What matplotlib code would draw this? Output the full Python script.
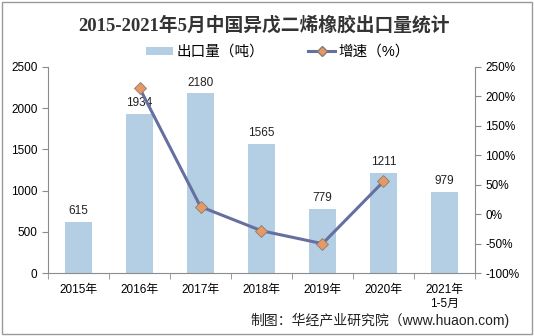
import matplotlib
matplotlib.use("Agg")
import matplotlib.pyplot as plt
import numpy as np
from matplotlib.patches import Rectangle
from matplotlib.lines import Line2D
from matplotlib.patches import Patch

plt.rcParams['font.family'] = ['Liberation Sans', 'Noto Sans CJK SC']

years = ['2015年', '2016年', '2017年', '2018年', '2019年', '2020年', '2021年\n1-5月']
export_qty = [615, 1934, 2180, 1565, 779, 1211, 979]
growth = [None, 214.5, 12.7, -28.2, -50.2, 55.5, None]

bar_color = '#b4cfe3'
line_color = '#6670a0'
marker_color = '#e59a66'
axis_color = '#8c8c8c'

fig = plt.figure(figsize=(5.34, 3.36), dpi=100)
ax = fig.add_axes([0.0899, 0.1875, 0.7996, 0.6131])
ax2 = ax.twinx()

x = np.arange(len(years))
ax.bar(x, export_qty, width=0.44, color=bar_color, zorder=1)
for i, v in enumerate(export_qty):
    ax.annotate(str(v), (x[i], v), xytext=(0, 3.5), textcoords='offset points',
                ha='center', va='bottom', fontsize=8.5, color='#222222')

gx = [x[i] for i in range(len(growth)) if growth[i] is not None]
gy = [g for g in growth if g is not None]
ax2.plot(gx, gy, color=line_color, lw=2.2, marker='D', markersize=6,
         markerfacecolor=marker_color, markeredgecolor='#8a7a70', markeredgewidth=0.6, zorder=3)

ax.set_xlim(-0.5, len(years) - 0.5)
ax.set_ylim(0, 2500)
ax.set_yticks(range(0, 2501, 500))
ax2.set_ylim(-100, 250)
ax2.set_yticks(range(-100, 251, 50))
ax2.set_yticklabels([f'{t}%' for t in range(-100, 251, 50)])

ax.set_xticks(x)
ax.set_xticklabels(years)
ax.set_xticks(np.arange(-0.5, len(years), 1), minor=True)
ax.tick_params(axis='x', which='major', length=0, labelsize=8.5, pad=8)
ax.tick_params(axis='x', which='minor', length=4, color=axis_color, direction='out')
ax.tick_params(axis='y', labelsize=8.5, length=4, color=axis_color)
ax2.tick_params(axis='y', labelsize=8.5, length=4, color=axis_color)

for a in (ax, ax2):
    a.spines['top'].set_visible(False)
    for s in ('left', 'right', 'bottom'):
        a.spines[s].set_color(axis_color)
        a.spines[s].set_linewidth(0.8)
ax.spines['right'].set_visible(False)
ax2.spines['left'].set_visible(False)
ax2.spines['bottom'].set_visible(False)

fig.text(0.495, 0.925, '2015-2021年5月中国异戊二烯橡胶出口量统计', ha='center', va='center',
         fontsize=13.5, fontweight='bold', color='#333333',
         family=['Liberation Serif', 'Noto Sans CJK SC'])

handles = [Patch(facecolor=bar_color, edgecolor='none'),
           Line2D([0], [0], color=line_color, lw=2.2, marker='D', markersize=5,
                  markerfacecolor=marker_color, markeredgecolor='#8a7a70')]
fig.legend(handles, ['出口量（吨）', '增速（%）'], loc='center', bbox_to_anchor=(0.52, 0.845),
           ncol=2, frameon=False, fontsize=10.5, handlelength=1.9, handleheight=0.5,
           columnspacing=3.0, handletextpad=0.2)

fig.text(0.955, 0.045, '制图：华经产业研究院（www.huaon.com)', ha='right', va='center',
         fontsize=10, color='#222222')

fig.patches.append(Rectangle((0.004, 0.006), 0.992, 0.988, transform=fig.transFigure,
                             fill=False, edgecolor='#9a9a9a', lw=1))

fig.savefig('out.png', dpi=100)
